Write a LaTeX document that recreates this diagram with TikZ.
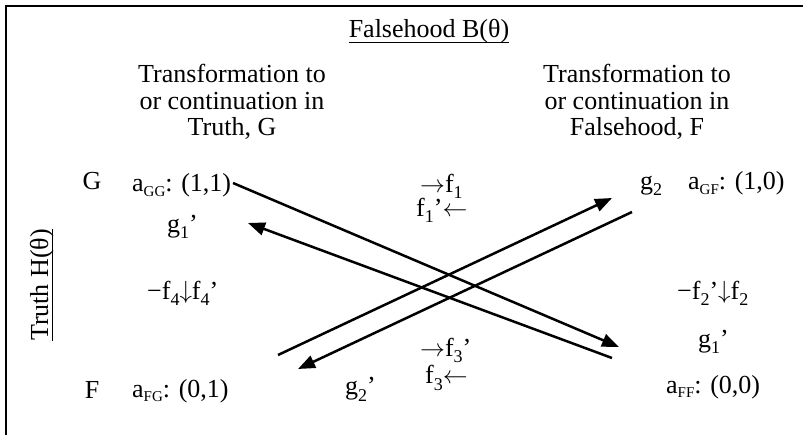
\documentclass[tikz,border=0pt]{standalone}
\usepackage{fontspec}
\setmainfont{Liberation Serif}
\usetikzlibrary{arrows.meta}
\newcommand{\lsub}[1]{\raisebox{-5pt}{\fontsize{15}{15}\selectfont #1}}
\newcommand{\dsub}[1]{\raisebox{-6pt}{\fontsize{18}{18}\selectfont #1}}
\newcommand{\rar}{\ensuremath{\rightarrow}}
\newcommand{\lar}{\ensuremath{\leftarrow}}
\newcommand{\dar}{\raisebox{1pt}{\ensuremath{\downarrow}}}
\begin{document}
\begin{tikzpicture}[x=1pt,y=-1pt,
  lbl/.style={inner sep=0pt,anchor=base west,font=\fontsize{26}{26.5}\selectfont},
  clbl/.style={inner sep=0pt,anchor=base,font=\fontsize{26}{26.5}\selectfont},
  blk/.style={inner sep=0pt,align=center,font=\fontsize{26}{26.5}\selectfont},
  conn/.style={line width=2.5pt,-{Triangle[length=17pt,width=13pt]}},
  frame/.style={line width=2.5pt}]
\useasboundingbox (0,0) rectangle (803,435);
% frame (top and left edges)
\coordinate (tl) at (6,6);
\coordinate (tr) at (803,6);
\coordinate (bl) at (6,435);
\draw[frame] (bl) -- (tl) -- (tr);
% headings
\node[clbl] (fh) at (429,38) {Falsehood B(θ)};
\draw[line width=1.2pt] ([yshift=-4.5pt]fh.base west) -- ([yshift=-4.5pt]fh.base east);
\node[blk] (tg) at (232,102) {Transformation to\\or continuation in\\Truth, G};
\node[blk] (tf) at (637,102) {Transformation to\\or continuation in\\Falsehood, F};
\node[clbl,rotate=90] (th) at (48,285) {Truth H(θ)};
\draw[line width=1.2pt] ([xshift=4.5pt]th.base west) -- ([xshift=4.5pt]th.base east);
% row labels
\node[clbl] (G) at (92,190) {G};
\node[clbl] (F) at (92,399) {F};
% left column
\node[lbl] (agg) at (132,192) {a\lsub{GG}: (1,1)};
\node[lbl] (g1l) at (167,233) {g\dsub{1}’};
\node[lbl] (f4) at (147,300) {−f\dsub{4}\dar f\dsub{4}’};
\node[lbl] (afg) at (132,397) {a\lsub{FG}: (0,1)};
% middle
\node[lbl] (f1a) at (420,193) {\rar f\dsub{1}};
\node[lbl] (f1b) at (416,217) {f\dsub{1}’\lar};
\node[lbl] (f3a) at (420,356) {\rar f\dsub{3}’};
\node[lbl] (f3b) at (425,384) {f\dsub{3}\lar};
\node[lbl] (g2l) at (345,395) {g\dsub{2}’};
% right column
\node[lbl] (g2r) at (640,190) {g\dsub{2}};
\node[lbl] (agf) at (688,190) {a\lsub{GF}: (1,0)};
\node[lbl] (f2) at (677,300) {−f\dsub{2}’\dar f\dsub{2}};
\node[lbl] (g1r) at (698,348) {g\dsub{1}’};
\node[lbl] (aff) at (666,393) {a\lsub{FF}: (0,0)};
% connector end points
\coordinate (p1s) at (233,183);
\coordinate (p1e) at (619,347);
\coordinate (p2s) at (612,358);
\coordinate (p2e) at (248,223);
\coordinate (p3s) at (278,355);
\coordinate (p3e) at (612,198);
\coordinate (p4s) at (632,212);
\coordinate (p4e) at (298,369);
\draw[conn] (p1s) -- (p1e);
\draw[conn] (p2s) -- (p2e);
\draw[conn] (p3s) -- (p3e);
\draw[conn] (p4s) -- (p4e);
\end{tikzpicture}
\end{document}
